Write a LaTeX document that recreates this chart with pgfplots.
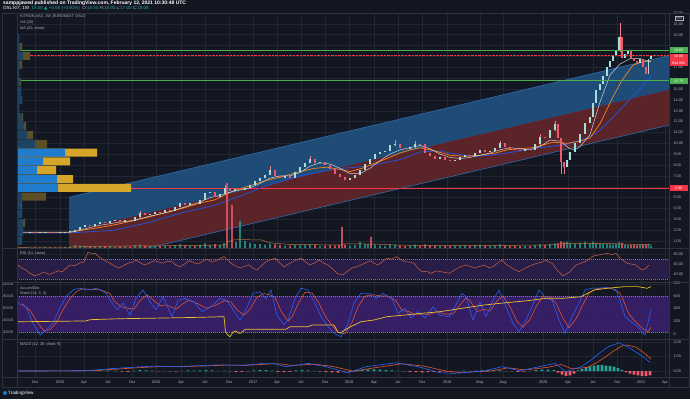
\documentclass[border=0pt]{standalone}
\usepackage{pgfplots}
\pgfplotsset{compat=1.18}
\usepackage{pgfplotstable}
\usepackage{fontspec}
\setmainfont{Liberation Sans}
\newfontfamily\dejavu{DejaVu Sans}
\definecolor{bg}{HTML}{131722}
\definecolor{gridc}{HTML}{232734}
\definecolor{sepc}{HTML}{2E323E}
\definecolor{txt}{HTML}{B2B5BE}
\definecolor{upc}{HTML}{A9DCD6}
\definecolor{dnc}{HTML}{EF5A6A}
\definecolor{chblue}{HTML}{1E4C76}
\definecolor{chred}{HTML}{5A2428}
\definecolor{chline}{HTML}{2E6BB0}
\definecolor{maw}{HTML}{CDD0D8}
\definecolor{mao}{HTML}{F5891E}
\definecolor{mab}{HTML}{2154D6}
\definecolor{vpb}{HTML}{1F7CCF}
\definecolor{vpg}{HTML}{D6A62B}
\definecolor{vpbf}{HTML}{1B4466}
\definecolor{vpgf}{HTML}{5E5026}
\definecolor{grn}{HTML}{4CAF50}
\definecolor{rd}{HTML}{F23645}
\definecolor{purp}{HTML}{3A1F6B}
\definecolor{rsib}{HTML}{2A1E4C}
\definecolor{vtl}{HTML}{26A69A}
\definecolor{yel}{HTML}{E9C32B}
\definecolor{stk}{HTML}{2962FF}
\definecolor{std}{HTML}{E8572F}
\definecolor{rsic}{HTML}{D0633F}
\definecolor{volma}{HTML}{B8743A}
\definecolor{dotc}{HTML}{787B86}

\pgfplotstableread{
x lo len
20 1.84 0.05
30 1.80 0.05
40 1.78 0.05
45 1.81 0.05
60 1.78 0.05
65 1.81 0.05
70 1.83 0.05
75 1.86 0.19
80 2.05 0.25
85 2.30 0.20
95 2.42 0.18
100 2.60 0.12
110 2.64 0.21
115 2.85 0.07
125 2.80 0.15
135 2.88 0.32
140 3.20 0.40
150 3.40 0.10
155 3.50 0.22
165 3.60 0.30
175 3.80 0.30
180 4.10 0.40
190 4.30 0.22
200 4.40 0.40
205 4.80 0.60
210 5.40 0.10
220 5.10 0.20
225 5.30 0.60
235 5.60 0.20
245 5.70 0.20
250 5.90 0.30
255 6.20 0.30
260 6.50 0.30
265 6.80 0.30
270 7.10 0.40
285 6.80 0.15
295 6.80 0.60
300 7.40 0.40
305 7.80 0.40
310 8.20 0.40
320 8.20 0.10
350 6.60 0.20
355 6.80 0.30
360 7.10 0.40
365 7.50 0.60
370 8.10 0.50
375 8.60 0.40
380 9.00 0.20
385 9.20 0.10
390 9.30 0.50
395 9.80 0.10
410 9.50 0.20
415 9.70 0.25
440 8.60 0.10
455 8.40 0.10
460 8.50 0.20
465 8.70 0.20
475 8.80 0.30
480 9.10 0.30
490 9.20 0.10
495 9.30 0.30
500 9.60 0.40
525 9.30 0.20
535 9.40 0.50
540 9.90 0.70
550 10.50 0.70
555 11.20 0.60
567 7.80 0.70
570 8.50 0.70
575 9.20 0.80
580 10.00 0.90
585 10.90 1.00
590 11.90 0.50
593 12.40 1.30
596 13.70 1.20
600 14.90 0.60
603 15.50 0.70
607 16.20 0.80
610 17.00 0.60
613 17.60 0.40
616 18.00 0.50
619 18.50 1.30
625 17.90 0.30
628 18.20 0.30
640 17.40 0.40
648.5 16.40 1.40
651 17.80 0.28
}\upcandles

\pgfplotstableread{
x lo len
25 1.80 0.05
35 1.78 0.05
50 1.80 0.05
55 1.78 0.05
90 2.42 0.08
105 2.64 0.08
120 2.80 0.12
130 2.88 0.07
145 3.40 0.20
160 3.60 0.12
170 3.80 0.10
185 4.30 0.20
195 4.40 0.12
215 5.10 0.40
230 5.60 0.30
240 5.70 0.10
275 7.00 0.50
280 6.80 0.20
290 6.80 0.15
315 8.20 0.40
325 8.00 0.30
330 7.60 0.40
335 7.20 0.40
340 6.90 0.30
345 6.60 0.30
400 9.60 0.30
405 9.50 0.10
420 9.90 0.05
425 9.10 0.80
430 8.80 0.30
435 8.60 0.20
445 8.50 0.20
450 8.40 0.10
470 8.80 0.10
485 9.20 0.20
505 9.70 0.30
510 9.50 0.20
515 9.40 0.10
520 9.30 0.10
530 9.40 0.10
545 10.50 0.10
558 10.50 1.30
561 8.30 2.20
564 7.80 0.50
622 17.90 1.90
631 17.90 0.60
634 17.60 0.30
637 17.40 0.20
643 17.00 0.80
646 16.40 0.60
}\dncandles

\pgfplotstableread{
x lo len
140 3.15 0.65
225 5.25 0.95
270 7.05 0.90
310 8.15 0.65
395 9.75 0.55
415 9.60 0.60
500 9.55 0.65
540 9.85 1.00
555 11.10 0.95
561 7.20 3.30
564 7.20 1.10
620 18.40 2.70
}\wicks

\pgfplotstableread{
x y
18 1.82
70 1.82
80 2.00
90 2.25
100 2.45
110 2.60
120 2.75
130 2.85
140 3.05
150 3.30
160 3.50
170 3.70
180 4.00
190 4.30
200 4.60
210 5.00
220 5.20
230 5.50
240 5.70
250 5.90
260 6.30
270 6.80
280 7.00
290 7.00
300 7.30
310 7.90
320 8.20
330 8.10
340 7.70
350 7.20
360 7.20
370 7.70
380 8.40
390 9.00
400 9.40
410 9.60
420 9.80
430 9.50
440 9.00
450 8.70
460 8.60
470 8.70
480 8.90
490 9.10
500 9.40
510 9.60
520 9.50
530 9.40
540 9.70
550 10.30
560 10.20
570 9.50
575 9.40
580 9.70
590 10.80
600 13.80
610 16.30
620 17.30
630 17.80
640 17.80
651 17.50
}\maw

\pgfplotstableread{
x y
18 1.80
70 1.80
82 2.00
100 2.25
115 2.50
130 2.80
148 3.20
165 3.60
182 4.00
200 4.50
215 4.80
233 5.60
250 6.10
267 6.60
285 7.00
300 7.40
315 7.70
327 7.80
340 7.60
350 7.40
362 7.70
373 8.10
387 8.60
400 9.10
410 9.40
420 9.60
435 9.30
450 8.90
465 8.80
480 8.90
495 9.10
507 9.40
520 9.50
533 9.60
545 9.90
553 10.10
567 10.00
580 10.20
590 10.50
600 11.80
613 14.30
622 15.80
633 17.20
642 17.50
651 17.60
}\mao

\pgfplotstableread{
x y
18 1.75
70 1.75
115 2.00
148 2.70
182 3.60
215 4.30
242 5.20
267 6.10
300 7.00
333 7.60
367 7.90
400 8.50
420 9.20
440 9.30
450 9.10
473 8.80
490 8.90
507 9.10
540 9.60
567 9.90
590 10.60
600 11.20
613 12.40
625 13.60
640 15.00
651 16.20
}\mab

\pgfplotstableread{
x y
20 0.3
30 0.3
40 0.3
45 0.4
60 0.3
65 0.4
70 0.5
75 1.2
80 1.0
85 0.9
95 0.7
100 0.8
110 0.9
115 0.6
125 0.7
135 1.1
140 1.4
150 0.8
155 0.9
165 1.0
175 1.2
180 1.5
190 0.9
200 1.3
205 2.0
210 1.2
220 1.4
224 2.2
236 2.5
240 11.5
245 3.0
250 2.2
255 1.8
260 1.6
265 1.4
270 1.9
285 1.0
295 1.3
300 1.1
305 1.2
310 1.5
320 0.9
350 1.0
355 1.2
360 2.5
365 1.8
368 1.6
375 1.4
380 1.1
385 0.9
390 1.5
395 1.3
410 0.9
415 1.4
440 0.8
455 0.9
460 1.0
465 1.1
475 1.2
480 1.3
490 0.9
495 1.1
500 1.5
525 0.9
535 1.3
540 1.6
550 1.8
555 2.0
567 2.6
570 2.2
575 2.0
580 2.3
585 2.5
590 2.0
593 2.6
596 2.2
600 1.9
603 1.6
607 1.8
610 1.5
613 1.4
616 1.6
619 2.4
625 1.4
628 1.3
640 1.2
648.5 1.6
651 1.0
}\volup

\pgfplotstableread{
x y
25 0.3
35 0.3
50 0.3
55 0.3
90 0.7
105 0.8
120 0.7
130 0.6
145 1.0
160 0.8
170 0.7
185 1.1
195 0.9
215 1.6
227 27.7
232 18.3
275 1.5
280 1.2
290 1.0
315 1.3
325 1.0
330 1.2
335 1.1
339 1.3
342 9.0
345 1.4
371 4.7
400 1.1
405 0.9
420 0.8
425 1.5
430 1.2
435 1.0
445 0.9
450 0.8
470 0.9
485 1.0
505 1.1
510 0.9
515 0.8
520 0.9
530 0.8
545 1.2
558 2.0
561 2.8
564 2.4
622 2.2
631 1.4
634 1.2
637 1.1
643 1.3
646 1.5
}\voldn

\pgfplotstableread{
x y
18 0.3
70 0.4
100 0.8
150 0.9
200 1.1
226 1.3
228 2.6
233 3.4
240 3.6
262 3.4
270 2.2
290 1.5
340 1.3
345 1.8
365 1.7
380 1.6
400 1.2
450 1.0
500 1.1
550 1.3
565 2.0
600 2.0
640 1.5
651 1.4
}\volmadata

\pgfplotstableread{
x y
18 58.5
22 52
26 48.7
30 42
35 37
40 41
44 44.8
49 40
53 42.7
58 47
62 44.8
66 52
70 58.5
75 57
79 62
84 64.4
88 84
92 80
95 82
98 76
101 72
106 66
110 62
115 56
119 52.6
124 58
128 62
132 64
136 68
141 62
145 58.5
150 63
154 67
159 64
163 62
168 66
172 65
176 58
180 55
185 61
189 67
194 63
198 60.5
203 66
207 70
212 64
216 67
220 71
224 75
228 68
231 62
236 56
240 52.6
245 56
249 58.5
253 52
257 48.7
262 58
266 65
271 69
275 72
280 62
284 55
289 61
293 65
297 69
301 72
306 64
310 58.5
315 63
319 68
324 62
328 58.5
333 50
337 42
343 39
348 47
352 52.6
357 55
361 58.5
366 63
370 67
374 62
378 58.5
383 66
387 72
392 70
396 75
401 69
405 65
410 64
414 62
418 52
422 45.4
427 46
431 42
436 47
440 45.4
445 44
449 42
454 48
458 52.6
462 56
466 58.5
471 55
475 52.6
480 56
484 58.5
489 53
493 55
498 63
502 68
506 60
510 55
515 49
519 45.4
524 51
528 55
533 59
537 62
542 64
546 68
549 64
552 62
557 48.7
563 37
566 40
570 45.4
573 52
576 58.5
581 62
585 65
589 70
592 75
595 77
598 78
603 80
607 81.5
612 79
616 81.5
620 72
624 66
627 62
632 60
636 58.5
639 53
642 48.7
646 52
649 58.5
}\rsidata

\pgfplotstableread{
x y
18 68
26 62
33 34.5
40 15
46 23
53 34.5
59 57
66 79
73 90
79 93
88 90
97 93
106 84.5
110 73
117 57
123 68
130 48
136 76
143 90
150 70
156 57
163 79
172 45.5
178 73
185 76
194 70
202 54
211 62
220 76
227 73
233 57
240 40
246 57
253 84.5
260 87
266 76
271 90
277 48
284 32
288 40
295 76
301 93
308 90
315 68
321 45.5
328 29
334 18
341 12
348 34.5
354 68
361 84.5
370 84.5
376 76
383 84.5
392 76
398 51
405 59.5
411 43
418 54
425 43
433 62
440 48
449 45.5
455 62
462 84.5
466 79
473 40
480 70
486 45.5
493 73
499 90
506 62
513 34.5
519 20.5
526 40
532 62
539 90
546 76
552 73
559 40
565 18
572 45.5
579 68
585 90
592 93
598 93
607 94.5
616 90
620 73
625 45.5
631 37
638 29
645 15
651 57
}\stochk

\pgfplotstableread{
x y
22 67
30 56
37 37
44 22
50 24
57 37
63 57
70 76
77 88
83 92
92 91
101 90
110 84
114 72
121 62
127 60
134 58
140 72
147 82
154 72
160 64
167 65
176 58
182 66
189 73
198 67
206 60
215 64
224 72
231 70
237 57
244 48
250 58
257 78
264 84
270 82
275 78
281 55
288 38
292 45
299 70
305 86
312 85
319 68
325 47
332 31
338 19
345 17
352 36
358 62
365 80
374 82
380 80
387 80
396 72
402 56
409 54
415 49
422 50
429 49
437 54
444 50
453 50
459 63
466 77
470 72
477 54
484 58
490 55
497 72
503 80
510 62
517 38
523 28
530 41
536 62
543 80
550 78
556 68
563 43
569 27
576 42
583 66
589 85
596 92
602 93
611 93
620 85
624 70
629 50
635 38
642 27
648 20
651 28
}\stochd

\pgfplotstableread{
x y
18 193
40 196
60 200
86 205
90 225
120 240
160 250
200 262
224 272
225.5 36
228 -20
230 -42
233 30
236 47
239 10
241 16
245 74
286 74
290 115
308 115
312 141
334 141
338 30
340 16
348 94
361 193
374 220
387 272
405 298
422 325
440 350
462 403
484 455
506 491
528 523
546 560
563 560
581 585
594 690
607 717
625 743
638 743
647 717
651 743
}\addata

\pgfplotstableread{
x y
18 0.00
60 0.01
88 0.03
110 0.16
132 0.26
154 0.34
176 0.30
198 0.37
220 0.43
242 0.39
264 0.53
273 0.53
286 0.30
308 0.53
326 0.30
348 -0.12
366 0.30
396 0.57
418 0.30
440 -0.12
454 -0.16
485 0.02
502 0.30
520 0.02
542 0.34
555 0.53
566 -0.05
581 0.30
590 0.70
599 1.22
608 1.67
619 1.95
630 1.57
643 1.00
650 0.59
}\macdline

\pgfplotstableread{
x y
18 0.00
60 0.01
95 0.03
116 0.13
138 0.23
160 0.31
182 0.31
204 0.35
226 0.41
248 0.40
270 0.49
280 0.50
292 0.38
314 0.47
332 0.33
354 -0.02
372 0.20
402 0.50
424 0.34
446 0.00
460 -0.10
490 0.00
508 0.22
526 0.08
548 0.26
561 0.45
572 0.15
587 0.25
596 0.55
605 0.95
614 1.40
621 1.70
626 1.80
636 1.65
646 1.15
651 0.81
}\macdsig

\pgfplotstableread{
x y
100 0.04
108 0.05
116 0.03
134 0.03
140 0.06
146 0.05
152 0.03
164 0.02
182 0.02
188 0.04
194 0.03
200 0.05
206 0.06
212 0.04
218 0.02
224 0.03
254 0.04
260 0.07
266 0.06
272 0.03
296 0.04
302 0.07
308 0.05
314 0.02
356 0.06
362 0.10
368 0.12
374 0.11
380 0.09
386 0.07
392 0.05
398 0.02
458 0.02
464 0.03
470 0.02
476 0.03
482 0.05
488 0.06
494 0.05
500 0.04
506 0.02
530 0.02
536 0.06
542 0.09
548 0.10
554 0.06
578 0.05
582 0.15
586 0.25
590 0.32
594 0.38
598 0.41
602 0.40
606 0.38
610 0.35
614 0.30
618 0.22
622 0.08
}\histpos

\pgfplotstableread{
x y
122 -0.04
128 -0.05
158 -0.02
170 -0.03
176 -0.04
230 -0.03
236 -0.05
242 -0.06
248 -0.03
278 -0.05
284 -0.08
290 -0.06
320 -0.04
326 -0.07
332 -0.09
338 -0.10
344 -0.08
350 -0.04
404 -0.03
410 -0.06
416 -0.08
422 -0.09
428 -0.08
434 -0.07
440 -0.06
446 -0.04
452 -0.02
512 -0.03
518 -0.05
524 -0.04
558 -0.10
562 -0.25
566 -0.34
570 -0.30
574 -0.18
626 -0.08
630 -0.18
634 -0.25
638 -0.30
642 -0.33
646 -0.34
650 -0.30
}\histneg

\pgfplotsset{
  panel/.style={
    scale only axis, width=652pt, xmin=17, xmax=669, anchor=south west,
    axis line style={draw=none}, major tick length=0pt,
    xtick={35,60,84,108,132,156,181,205,229,253,277,301,325,349,374,398,422,447,480,503,543,568,593,617,641,665},
    xticklabels={},
    xmajorgrids, ymajorgrids,
    major grid style={draw=gridc, line width=0.45pt},
    tick label style={font=\fontsize{3.8}{4}\selectfont, text=txt},
    /pgf/number format/assume math mode=true,
    clip mode=individual,
  },
  ovl/.style={scale only axis, width=652pt, anchor=south west, hide axis, clip mode=individual},
  candle/.style={forget plot, draw=none, mark=none, error bars/.cd, y dir=plus, y explicit, error mark=none},
}
\tikzset{
  badge/.style={anchor=west, inner sep=0.7pt, text=white, font=\fontsize{3.6}{4}\selectfont, minimum width=19pt, minimum height=6pt},
  plab/.style={anchor=west, inner sep=0pt, text=txt, font=\fontsize{3.8}{4}\selectfont},
}

\begin{document}
\begin{tikzpicture}
\fill[bg] (0pt,0pt) rectangle (690pt,399pt);

% ---------------- price panel ----------------
\begin{axis}[panel, at={(17pt,151pt)}, height=235pt, ymin=0.36, ymax=22,
  ytick={1,...,22}, yticklabel pos=right,
  yticklabels={1.00,2.00,3.00,4.00,5.00,,7.00,8.00,9.00,10.00,11.00,12.00,13.00,14.00,15.00,,17.00,,,20.00,21.00,22.00},
  yticklabel style={anchor=west, xshift=1pt}]
\addplot[fill=chblue, draw=none, forget plot] coordinates {(69,5.03) (669,18.08) (669,14.88) (69,1.83)} -- cycle;
\addplot[fill=chred, draw=none, forget plot] coordinates {(69,1.83) (669,14.88) (669,11.68) (69,-1.37)} -- cycle;
\addplot[chline, line width=0.6pt] coordinates {(69,5.03) (669,18.08)};
\addplot[chline, line width=0.6pt] coordinates {(69,-1.37) (669,11.68)};
\addplot[color=chred!70!red, line width=0.4pt] coordinates {(69,1.83) (669,14.88)};
\addplot[rd, line width=0.5pt] coordinates {(17,5.9) (669,5.9)};
\addplot[mab, line width=0.8pt] table[x=x,y=y] {\mab};
\addplot[mao, line width=0.7pt] table[x=x,y=y] {\mao};
\addplot[maw, line width=0.5pt] table[x=x,y=y] {\maw};
\addplot[candle, error bar style={draw=dnc!80!white, line width=0.4pt}] table[x=x, y=lo, y error=len] {\wicks};
\addplot[candle, error bar style={draw=upc, line width=1.4pt}] table[x=x, y=lo, y error=len] {\upcandles};
\addplot[candle, error bar style={draw=dnc, line width=1.4pt}] table[x=x, y=lo, y error=len] {\dncandles};
\addplot[grn, line width=0.8pt] coordinates {(17,18.6) (669,18.6)};
\addplot[grn, line width=0.8pt] coordinates {(17,15.76) (669,15.76)};
\addplot[rd, line width=0.4pt, densely dotted] coordinates {(17,18.08) (669,18.08)};
\node[badge, fill=grn] at (axis cs:669,18.6) {18.60};
\node[badge, fill=rd] at (axis cs:669,17.98) {18.08};
\node[badge, fill=rd] at (axis cs:669,17.42) {04d 06h};
\node[badge, fill=grn] at (axis cs:669,15.76) {15.76};
\node[badge, fill=rd] at (axis cs:669,5.9) {5.90};
\end{axis}

% volume
\begin{axis}[ovl, at={(17pt,151pt)}, height=235pt, xmin=17, xmax=669, ymin=0, ymax=100]
\addplot[ybar, bar width=1.6pt, bar shift=0pt, fill=vtl, fill opacity=0.75, draw=none] table[x=x,y=y] {\volup};
\addplot[ybar, bar width=1.6pt, bar shift=0pt, fill=dnc, fill opacity=0.8, draw=none] table[x=x,y=y] {\voldn};
\addplot[sharp plot, volma, line width=0.5pt] table[x=x,y=y] {\volmadata};
\end{axis}

% volume profile
\begin{axis}[ovl, at={(17pt,151pt)}, height=235pt, xmin=0, xmax=652, ymin=0.36, ymax=22]
\addplot[xbar, bar width=0.74, bar shift=0pt, fill=vpgf, draw=none] coordinates {
(5,1.04) (6,1.85) (8,2.66) (5,3.47) (5,4.28) (29,5.09) (30,9.95) (16,10.76) (9,11.57) (6,12.38) (2,13.19) (5,14.00) (4,14.81) (4,15.62) (2,16.43) (5,17.24) (13,18.05) (5,18.86) (2,19.67)};
\addplot[xbar, bar width=0.74, bar shift=0pt, fill=vpbf, draw=none] coordinates {
(5,1.04) (6,1.85) (6,2.66) (5,3.47) (4,4.28) (5,5.09) (18,9.95) (10,10.76) (7,11.57) (5,12.38) (2,13.19) (5,14.00) (4,14.81) (3,15.62) (2,16.43) (3,17.24) (6,18.05) (3,18.86) (2,19.67)};
\addplot[xbar, bar width=0.74, bar shift=0pt, fill=vpg, draw=none] coordinates {
(114,5.90) (56,6.71) (39,7.52) (53,8.33) (80,9.14)};
\addplot[xbar, bar width=0.74, bar shift=0pt, fill=vpb, draw=none] coordinates {
(41,5.90) (40,6.71) (20,7.52) (26,8.33) (48,9.14)};
\end{axis}

% ---------------- RSI ----------------
\begin{axis}[panel, at={(17pt,117pt)}, height=33pt, ymin=25, ymax=90,
  ytick={40,60,80}, yticklabels={40.00,60.00,80.00}, yticklabel pos=right,
  yticklabel style={anchor=west, xshift=1pt}]
\addplot[fill=rsib, draw=none, fill opacity=0.9] coordinates {(17,30) (669,30) (669,70) (17,70)} -- cycle;
\addplot[dotc, line width=0.4pt, dash pattern=on 1pt off 1pt] coordinates {(17,70) (669,70)};
\addplot[dotc, line width=0.4pt, dash pattern=on 1pt off 1pt] coordinates {(17,30) (669,30)};
\addplot[rsic, line width=0.5pt] table[x=x,y=y] {\rsidata};
\end{axis}

% ---------------- Stoch + Accum/Dist ----------------
\begin{axis}[panel, at={(17pt,60pt)}, height=56pt, ymin=8.3, ymax=101.7,
  ytick={20,40,60,80,100}, yticklabels={20.00,40.00,60.00,80.00,100.00},
  yticklabel style={anchor=east, xshift=-0.5pt}]
\addplot[fill=purp, draw=none, fill opacity=0.92] coordinates {(17,20) (669,20) (669,80) (17,80)} -- cycle;
\addplot[dotc, line width=0.4pt, dash pattern=on 1pt off 1pt] coordinates {(17,80) (669,80)};
\addplot[dotc, line width=0.4pt, dash pattern=on 1pt off 1pt] coordinates {(17,20) (669,20)};
\addplot[std, line width=0.55pt] table[x=x,y=y] {\stochd};
\addplot[stk, line width=0.55pt] table[x=x,y=y] {\stochk};
\end{axis}
\begin{axis}[scale only axis, width=652pt, anchor=south west, at={(17pt,60pt)}, height=56pt,
  xmin=17, xmax=669, ymin=-78, ymax=800, axis line style={draw=none}, major tick length=0pt,
  xtick=\empty, ytick={0,200,400,600,800}, yticklabels={0,200,400,600,800}, yticklabel pos=right,
  tick label style={font=\fontsize{3.8}{4}\selectfont, text=txt}, yticklabel style={anchor=west, xshift=1pt},
  clip mode=individual]
\addplot[yel, line width=0.7pt] table[x=x,y=y] {\addata};
\end{axis}

% ---------------- MACD ----------------
\begin{axis}[panel, at={(17pt,22pt)}, height=37pt, ymin=-0.41, ymax=2.14,
  ytick={0,1,2}, yticklabels={0.00,1.00,2.00}, yticklabel pos=right,
  yticklabel style={anchor=west, xshift=1pt},
  xticklabels={Oct,2015,Apr,Jul,Oct,2016,Apr,Jul,Oct,2017,Apr,Jul,Oct,2018,Apr,Jul,Oct,2019,May,Aug,2020,Apr,Jul,Oct,2021,Apr},
  xticklabel style={anchor=north, yshift=-0.3pt}]
\addplot[ybar, bar width=2.6pt, bar shift=0pt, fill=vtl, draw=none] table[x=x,y=y] {\histpos};
\addplot[ybar, bar width=2.6pt, bar shift=0pt, fill=dnc, draw=none] table[x=x,y=y] {\histneg};
\addplot[sharp plot, std, line width=0.6pt] table[x=x,y=y] {\macdsig};
\addplot[sharp plot, stk, line width=0.6pt] table[x=x,y=y] {\macdline};
\end{axis}

% ---------------- frame and separators ----------------
\draw[sepc, line width=0.6pt] (2pt,12pt) rectangle (689pt,386pt);
\draw[sepc, line width=0.6pt] (17pt,12pt) -- (17pt,386pt);
\draw[sepc, line width=0.6pt] (669pt,12pt) -- (669pt,386pt);
\foreach \yy in {150.5,116.5,59.5,22} {\draw[sepc, line width=0.6pt] (2pt,\yy pt) -- (689pt,\yy pt);}

% ---------------- texts ----------------
\node[anchor=west, inner sep=0pt, text=white, font=\fontsize{5}{5}\selectfont\bfseries] at (3pt,395.5pt) {samppjawed published on TradingView.com, February 12, 2021 10:30:48 UTC};
\node[anchor=west, inner sep=0pt, text=txt, font=\fontsize{4.5}{5}\selectfont] at (3pt,390.2pt) {\textcolor{white}{OSL:KIT, 1W}\ \ \textcolor{vtl}{18.08 {\dejavu ▲} +0.68 (+3.91\%)}\ \ O:\textcolor{vtl}{18.50} H:\textcolor{vtl}{18.90} L:\textcolor{vtl}{17.00} C:\textcolor{vtl}{18.08}};
\node[plab] at (20pt,383pt) {KITRON ASA, 1W, EURONEXT OSLO};
\node[plab] at (20pt,376.5pt) {Vol (20)};
\node[plab] at (20pt,370.5pt) {MA (20, close)};
\node[plab] at (20pt,145pt) {RSI (14, close)};
\node[plab] at (20pt,111pt) {Accum/Dist};
\node[plab] at (20pt,105.5pt) {Stoch (14, 3, 3)};
\node[plab] at (20pt,54pt) {MACD (12, 26, close, 9)};
\node[draw=txt, line width=0.3pt, inner sep=0.6pt, text=txt, font=\fontsize{3.2}{3.5}\selectfont] at (679pt,381pt) {NOK};
\fill[vpb] (5pt,6pt) circle (2pt);
\node[anchor=west, inner sep=0pt, text=white, font=\fontsize{4.6}{5}\selectfont] at (8pt,6pt) {TradingView};

\pgfresetboundingbox
\path (0pt,0pt) rectangle (690pt,399pt);
\end{tikzpicture}
\end{document}
